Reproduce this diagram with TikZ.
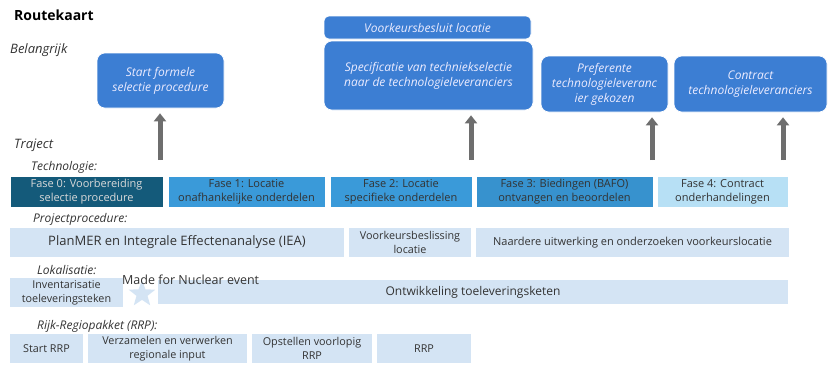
\documentclass[tikz,border=0pt]{standalone}
\usepackage{fontspec}
\setmainfont{Open Sans}
\usetikzlibrary{arrows.meta,shapes.geometric}
\definecolor{bigblue}{HTML}{3C7ED3}
\definecolor{fasedark}{HTML}{145A7A}
\definecolor{fasemid}{HTML}{3A9AD9}
\definecolor{faselight}{HTML}{B7E0F5}
\definecolor{pale}{HTML}{D4E4F4}
\definecolor{txt}{HTML}{333333}
\definecolor{arrowgray}{HTML}{6E6E6E}
\tikzset{
  bigbox/.style={fill=bigblue, draw=white, line width=0.6pt, rounded corners=8pt, text=white!92!blue, font=\fontsize{12}{15}\selectfont\itshape, align=center, inner sep=1pt},
  fasebox/.style={draw=white, line width=0.6pt, text=txt, font=\fontsize{11}{14}\selectfont, align=center, inner sep=1pt},
  palebox/.style={fill=pale, draw=none, text=txt, font=\fontsize{10.8}{14}\selectfont, align=center, inner sep=1pt},
  rowlabel/.style={anchor=west, text=txt, font=\fontsize{12}{13}\selectfont\itshape, inner sep=0pt},
  uparrow/.style={draw=arrowgray, fill=arrowgray, line width=5pt, -{Triangle[width=12pt,length=8pt]}, shorten >=5pt}
}
\begin{document}
\begin{tikzpicture}[x=1pt,y=-1pt]
\useasboundingbox (0,0) rectangle (832,365);
% titles
\node[anchor=west, inner sep=0pt, font=\fontsize{14}{16}\selectfont\bfseries] (title) at (14,15) {Routekaart};
\node[rowlabel, font=\fontsize{13}{15}\selectfont\itshape] (lbelang) at (10,50) {Belangrijk};
\node[rowlabel, font=\fontsize{13}{15}\selectfont\itshape] (ltraject) at (14,145) {Traject};
\node[rowlabel] (ltech) at (31,167) {Technologie:};
\node[rowlabel] (lproj) at (33,219) {Projectprocedure:};
\node[rowlabel] (llok) at (37,270) {Lokalisatie:};
\node[rowlabel] (lrrp) at (37,326) {Rijk-Regiopakket (RRP):};
% important boxes
\node[bigbox, minimum width=127pt, minimum height=55pt] (b1) at (160.5,80.5) {Start formele\\selectie procedure};
\node[bigbox, rounded corners=5pt, minimum width=207pt, minimum height=23pt] (b2top) at (427.5,27.5) {Voorkeursbesluit locatie};
\node[bigbox, minimum width=209pt, minimum height=69pt] (b2) at (428.5,75.5) {Specificatie van techniekselectie\\naar de technologieleveranciers};
\node[bigbox, minimum width=127pt, minimum height=56pt] (b3) at (604.5,84) {Preferente\\technologieleveranc\\ier gekozen};
\node[bigbox, minimum width=153pt, minimum height=56pt] (b4) at (750.5,84) {Contract\\technologieleveranciers};
% arrows
\coordinate (a1) at (160,160);
\coordinate (a2) at (471,160);
\coordinate (a3) at (652,160);
\coordinate (a4) at (783,160);
\draw[uparrow] (a1) -- (a1 |- b1.south);
\draw[uparrow] (a2) -- (a2 |- b2.south);
\draw[uparrow] (a3) -- (a3 |- b3.south);
\draw[uparrow] (a4) -- (a4 |- b4.south);
% technology phases
\node[fasebox, fill=fasedark, text=black!15, minimum width=153pt, minimum height=31pt] (f0) at (86.5,191.5) {Fase 0: Voorbereiding\\selectie procedure};
\node[fasebox, fill=fasemid, minimum width=157pt, minimum height=31pt] (f1) at (246.5,191.5) {Fase 1: Locatie\\onafhankelijke onderdelen};
\node[fasebox, fill=fasemid, minimum width=142pt, minimum height=31pt] (f2) at (401,191.5) {Fase 2: Locatie\\specifieke onderdelen};
\node[fasebox, fill=fasemid!95!black, minimum width=177pt, minimum height=31pt] (f3) at (564.5,191.5) {Fase 3: Biedingen (BAFO)\\ontvangen en beoordelen};
\node[fasebox, fill=faselight, minimum width=131pt, minimum height=31pt] (f4) at (722.5,191.5) {Fase 4: Contract\\onderhandelingen};
% project procedure
\node[palebox, font=\fontsize{13}{15}\selectfont, minimum width=334pt, minimum height=29pt] (p1) at (177,242.5) {PlanMER en Integrale Effectenanalyse (IEA)};
\node[palebox, minimum width=122pt, minimum height=29pt] (p2) at (410,242.5) {Voorkeursbeslissing\\locatie};
\node[palebox, font=\fontsize{11}{14}\selectfont, minimum width=313pt, minimum height=29pt] (p3) at (632.5,242.5) {Naardere uitwerking en onderzoeken voorkeurslocatie};
% localisation
\node[palebox, minimum width=113pt, minimum height=29pt] (l1) at (66.5,292.5) {Inventarisatie\\toeleveringsteken};
\node[palebox, font=\fontsize{12}{14}\selectfont, minimum width=630pt, minimum height=24pt] (l2) at (473,292) {Ontwikkeling toeleveringsketen};
\node[star, star points=5, star point ratio=2.4, fill=pale, minimum size=28pt, inner sep=0pt] (star) at (142,294) {};
\node[anchor=west, inner sep=0pt, text=txt, font=\fontsize{12.5}{14}\selectfont] (event) at (122,280) {Made for Nuclear event};
% RRP
\node[palebox, minimum width=73pt, minimum height=29pt] (r1) at (46.5,348.5) {Start RRP};
\node[palebox, minimum width=159pt, minimum height=29pt] (r2) at (167.5,348.5) {Verzamelen en verwerken\\regionale input};
\node[palebox, minimum width=120pt, minimum height=29pt] (r3) at (312,348.5) {Opstellen voorlopig\\RRP};
\node[palebox, minimum width=94pt, minimum height=29pt] (r4) at (424,348.5) {RRP};
\end{tikzpicture}
\end{document}
